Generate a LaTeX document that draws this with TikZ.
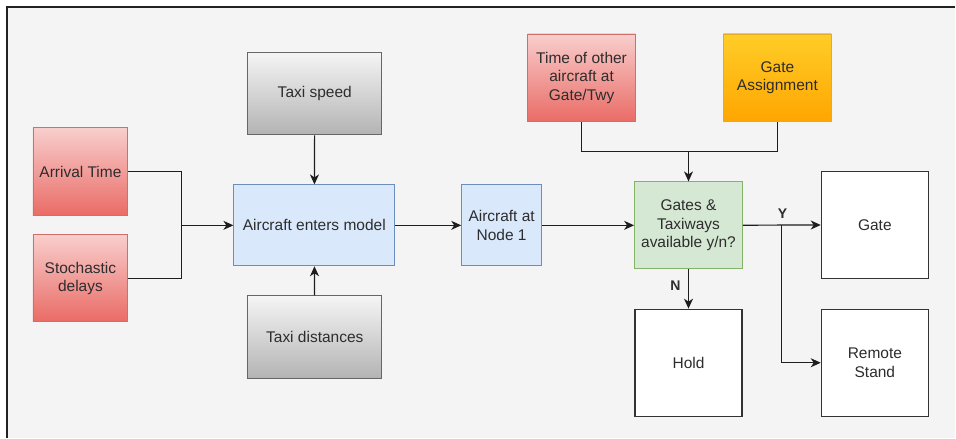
\documentclass[tikz,border=0pt]{standalone}
\usepackage{fontspec}
\setmainfont{Liberation Sans}
\usepackage{tikz}
\usetikzlibrary{arrows.meta, positioning}
\definecolor{PanelGray}{RGB}{244,244,244}
\definecolor{FrameDark}{RGB}{34,34,34}
\definecolor{TextDark}{RGB}{45,45,45}
\definecolor{LinkDark}{RGB}{30,30,30}
\definecolor{RedTop}{RGB}{248,206,204}
\definecolor{RedBottom}{RGB}{234,107,102}
\definecolor{RedLine}{RGB}{208,110,106}
\definecolor{GrayTop}{RGB}{245,245,245}
\definecolor{GrayBottom}{RGB}{179,179,179}
\definecolor{GrayLine}{RGB}{102,102,102}
\definecolor{BlueFill}{RGB}{218,232,252}
\definecolor{BlueLine}{RGB}{108,142,191}
\definecolor{GreenFill}{RGB}{213,232,212}
\definecolor{GreenLine}{RGB}{130,179,102}
\definecolor{OrangeTop}{RGB}{255,205,40}
\definecolor{OrangeBottom}{RGB}{255,165,0}
\definecolor{OrangeLine}{RGB}{230,170,40}
\definecolor{BoxDark}{RGB}{51,51,51}

\begin{document}
\begin{tikzpicture}[x=1pt, y=-1pt, font=\fontsize{15.5}{18.5}\selectfont,
	box/.style={draw, rectangle, align=center, text=TextDark, inner sep=2pt, line width=0.9pt},
	redbox/.style={box, draw=RedLine, top color=RedTop, bottom color=RedBottom},
	graybox/.style={box, draw=GrayLine, top color=GrayTop, bottom color=GrayBottom,
		minimum width=134pt, minimum height=83pt},
	bluebox/.style={box, draw=BlueLine, fill=BlueFill, minimum height=81pt},
	whitebox/.style={box, draw=BoxDark, fill=white, line width=1.3pt,
		minimum width=107pt, minimum height=107pt},
	link/.style={draw=LinkDark, line width=1.2pt},
	arr/.style={link, -{Stealth[length=10pt, width=9pt, inset=3pt]}},
	flag/.style={font=\fontsize{14}{16}\selectfont\bfseries, text=TextDark}]

	% panel
	\fill[white] (0,0) rectangle (956,439);
	\fill[PanelGray] (7,7) rectangle (956,438);
	\draw[FrameDark, line width=1.4pt] (7,438) -- (7,7) -- (956,7);

	% inputs
	\node[redbox, minimum width=95pt, minimum height=88pt] (arrival) at (80.5,172) {Arrival Time};
	\node[redbox, minimum width=95pt, minimum height=87pt] (delays) at (80.5,278.5) {Stochastic\\delays};
	\node[graybox] (speed) at (315,93.5) {Taxi speed};
	\node[graybox] (dist) at (315,337.5) {Taxi distances};
	\node[redbox, minimum width=108pt, minimum height=88pt] (others) at (582,78) {Time of other\\aircraft at\\Gate/Twy};
	\node[box, draw=OrangeLine, top color=OrangeTop, bottom color=OrangeBottom,
		minimum width=108pt, minimum height=88pt] (assign) at (778,78) {Gate\\Assignment};

	% model
	\node[bluebox, minimum width=161pt] (enters) at (314.5,225.5) {Aircraft enters model};
	\node[bluebox, minimum width=80pt] (node1) at (502,225.5) {Aircraft at\\Node 1};
	\node[box, draw=GreenLine, fill=GreenFill, minimum width=108pt, minimum height=87pt] (avail) at (689,225.5) {Gates \&\\Taxiways\\available y/n?};

	% outcomes
	\node[whitebox] (gate) at (875.5,225) {Gate};
	\node[whitebox] (remote) at (875.5,363) {Remote\\Stand};
	\node[whitebox] (hold) at (689,363) {Hold};

	% junctions
	\coordinate (jin) at (182,225.5);
	\coordinate (jtop) at (689,152);
	\coordinate (jy) at (782,225.5);

	\draw[link] (arrival.east) -| (jin);
	\draw[link] (delays.east) -| (jin);
	\draw[arr] (jin) -- (enters);
	\draw[arr] (speed) -- (enters);
	\draw[arr] (dist) -- (enters);
	\draw[arr] (enters) -- (node1);
	\draw[arr] (node1) -- (avail);
	\draw[link] (others.south) |- (jtop) -| (assign.south);
	\draw[arr] (jtop) -- (avail);
	\draw[arr] (avail) -- (gate);
	\draw[arr] (jy) |- (remote);
	\draw[arr] (avail) -- (hold);

	\node[flag] (yes) at (783,214) {Y};
	\node[flag] (no) at (676,286) {N};
\end{tikzpicture}
\end{document}
